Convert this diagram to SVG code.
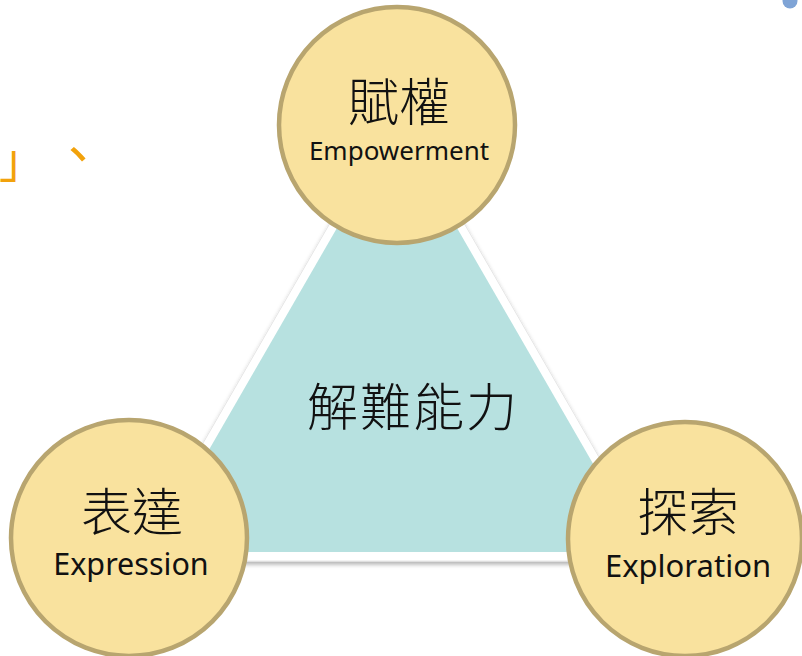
<svg xmlns="http://www.w3.org/2000/svg" width="802" height="656" viewBox="0 0 802 656">
<defs>
<filter id="sh" x="-10%" y="-10%" width="120%" height="125%">
<feDropShadow dx="0" dy="3" stdDeviation="2.2" flood-color="#000" flood-opacity="0.3"/>
</filter>
</defs>
<style>
.node{fill:#F9E29E;stroke:#B8A56F;stroke-width:4.5}
.cjk{font-family:"Noto Sans CJK TC","Noto Sans CJK SC",sans-serif;font-weight:300;fill:#111;text-anchor:middle}
.lat{font-family:"Noto Sans","Open Sans",sans-serif;fill:#111;text-anchor:middle}
.orn{font-family:"Noto Sans CJK TC",sans-serif;fill:#F2A20C}
</style>
<rect width="802" height="656" fill="#fff"/>
<text class="orn" x="-1" y="177" font-size="47">」</text>
<text class="orn" x="52" y="174" font-size="52">、</text>
<circle cx="790" cy="1" r="7.5" fill="#7FA4D6"/>
<g id="connectors">
<polygon points="397,107 135,561 659,561" fill="#fff" stroke="#e6e6e6" stroke-width="1" filter="url(#sh)"/>
<polygon points="397,124 150,552 644,552" fill="#B7E1E0"/>
</g>
<g id="center">
<text class="cjk" x="413" y="426" font-size="51" letter-spacing="2">解難能力</text>
</g>
<g id="empowerment">
<circle class="node" cx="397" cy="125" r="118"/>
<text class="cjk" x="399" y="121" font-size="51">賦權</text>
<text class="lat" x="399" y="160" font-size="26">Empowerment</text>
</g>
<g id="expression">
<circle class="node" cx="129" cy="538" r="118"/>
<text class="cjk" x="132" y="531" font-size="51">表達</text>
<text class="lat" x="131" y="575" font-size="30.5">Expression</text>
</g>
<g id="exploration">
<circle class="node" cx="685" cy="539" r="117"/>
<text class="cjk" x="688" y="531" font-size="51">探索</text>
<text class="lat" x="688" y="577" font-size="31">Exploration</text>
</g>
</svg>
